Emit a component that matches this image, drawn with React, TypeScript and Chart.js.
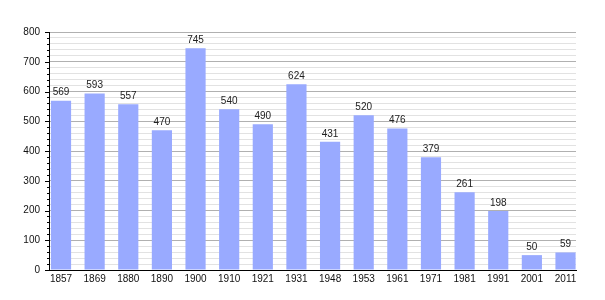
import React, { useEffect, useRef } from "react";
import { Chart, registerables } from "chart.js";

Chart.register(...registerables);

const categories = ["1857", "1869", "1880", "1890", "1900", "1910", "1921", "1931", "1948", "1953", "1961", "1971", "1981", "1991", "2001", "2011"];
const population = [569, 593, 557, 470, 745, 540, 490, 624, 431, 520, 476, 379, 261, 198, 50, 59];
const yMax = 800;
const yMinorStep = 20;
const yMajorStep = 100;

const FONT = "'Liberation Sans', Arial, sans-serif";

const valueLabels = {
  id: "valueLabels",
  afterDatasetsDraw(chart: any) {
    const ctx = chart.ctx;
    const meta = chart.getDatasetMeta(0);
    ctx.save();
    ctx.font = `10px ${FONT}`;
    ctx.fillStyle = "#222";
    ctx.textAlign = "center";
    ctx.textBaseline = "bottom";
    meta.data.forEach((bar: any, i: number) => {
      ctx.fillText(String(population[i]), bar.x, bar.y - 3);
    });
    ctx.restore();
  },
};

const yTickMarks = {
  id: "yTickMarks",
  afterDraw(chart: any) {
    const ctx = chart.ctx;
    const ys = chart.scales.y;
    ctx.save();
    ctx.strokeStyle = "#000";
    ctx.lineWidth = 1;
    ys.ticks.forEach((t: any) => {
      const py = Math.round(ys.getPixelForValue(t.value)) + 0.5;
      const len = t.value % yMajorStep === 0 ? 4 : 2;
      ctx.beginPath();
      ctx.moveTo(ys.right - len, py);
      ctx.lineTo(ys.right, py);
      ctx.stroke();
    });
    ctx.restore();
  },
};

export default function App() {
  const ref = useRef<HTMLCanvasElement>(null);

  useEffect(() => {
    if (!ref.current) return;
    const chart = new Chart(ref.current, {
      type: "bar",
      data: {
        datasets: [
          {
            data: population.map((v, i) => ({ x: i, y: v })),
            backgroundColor: "#99aaff",
            borderWidth: 0,
            categoryPercentage: 1,
            barPercentage: 0.6,
          },
        ],
      },
      options: {
        animation: false,
        responsive: false,
        devicePixelRatio: 1,
        layout: { padding: { left: 0, right: 29, top: 32, bottom: 0 } },
        plugins: { legend: { display: false }, tooltip: { enabled: false } },
        scales: {
          x: {
            type: "linear",
            offset: false,
            min: -0.357,
            max: 15.312,
            grid: { display: false, drawTicks: false },
            border: { display: true, color: "#000", width: 1 },
            afterBuildTicks: (scale: any) => {
              scale.ticks = categories.map((_, i) => ({ value: i }));
            },
            afterFit: (scale: any) => {
              scale.height = 30;
            },
            ticks: {
              autoSkip: false,
              maxRotation: 0,
              padding: 3,
              color: "#111",
              font: { family: FONT, size: 10 },
              callback: (v: any) => categories[v] ?? "",
            },
          },
          y: {
            min: 0,
            max: yMax,
            afterFit: (scale: any) => {
              scale.width = 49;
            },
            grid: {
              drawTicks: false,
              color: (c: any) => (c.tick && c.tick.value % yMajorStep === 0 ? "#b0b0b0" : "#e2e2e2"),
            },
            border: { display: true, color: "#000", width: 1 },
            ticks: {
              stepSize: yMinorStep,
              autoSkip: false,
              padding: 9,
              color: "#111",
              font: { family: FONT, size: 10 },
              callback: (v: any) => (v % yMajorStep === 0 ? String(v) : ""),
            },
          },
        },
      },
      plugins: [valueLabels, yTickMarks],
    });
    return () => chart.destroy();
  }, []);

  return (
    <div style={{ position: "absolute", left: 0, top: 0, width: 605, height: 300, background: "#fff" }}>
      <canvas ref={ref} width={605} height={300} style={{ width: 605, height: 300 }} />
    </div>
  );
}
